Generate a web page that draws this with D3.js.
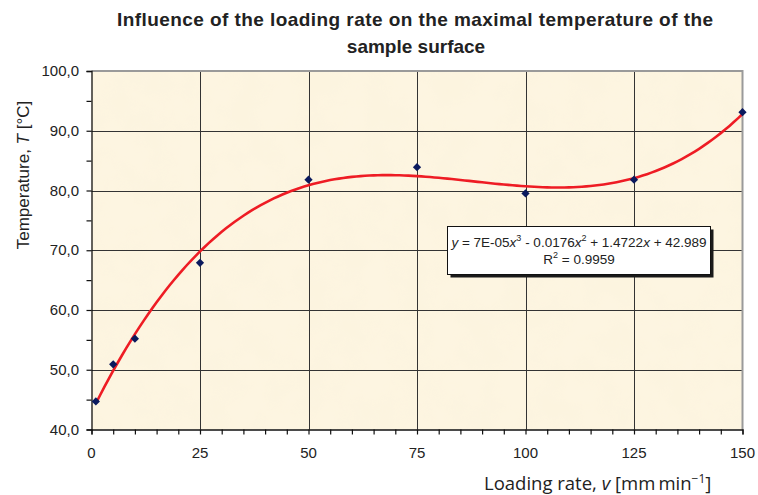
<!DOCTYPE html>
<html>
<head>
<meta charset="utf-8">
<script src="https://cdn.jsdelivr.net/npm/d3@7"></script>
<style>
  body { margin: 0; background: #fff; }
  svg { display: block; }
  text { font-family: "Liberation Sans", Arial, sans-serif; fill: #222; }
</style>
</head>
<body>
<script>
(function(){

    //measured values
    var rates = [1, 5, 10, 25, 50, 75, 100, 125, 150];
    var temps = [44.7, 50.9, 55.2, 67.9, 81.8, 83.9, 79.5, 81.8, 93.1];

    //axis ticks
    var xTicks = [0, 25, 50, 75, 100, 125, 150];
    var yTicks = [40, 50, 60, 70, 80, 90, 100];

    var width = 758,
        height = 495;

    //plot frame
    var left = 91.5, right = 742.5, top = 71, bottom = 429.5;

    var svg = d3.select("body")
        .append("svg")
        .attr("width", width)
        .attr("height", height);

    var x = d3.scaleLinear().domain([0, 150]).range([left, right]);
    var y = d3.scaleLinear().domain([40, 100]).range([bottom, top]);

    //paper texture for plot background
    var defs = svg.append("defs");
    var filter = defs.append("filter")
        .attr("id", "paper")
        .attr("x", 0).attr("y", 0).attr("width", 1).attr("height", 1);
    filter.append("feTurbulence")
        .attr("type", "fractalNoise")
        .attr("baseFrequency", 0.03)
        .attr("numOctaves", 3)
        .attr("seed", 4)
        .attr("result", "noise");
    filter.append("feColorMatrix")
        .attr("in", "noise")
        .attr("type", "matrix")
        .attr("values", "0 0 0 0 0.94  0 0 0 0 0.87  0 0 0 0 0.68  0 0 0 0.4 -0.12")
        .attr("result", "tint");
    filter.append("feComposite")
        .attr("in", "tint")
        .attr("in2", "SourceGraphic")
        .attr("operator", "in");

    svg.append("rect")
        .attr("x", left).attr("y", top)
        .attr("width", right - left).attr("height", bottom - top)
        .attr("fill", "#fdf5e1");
    svg.append("rect")
        .attr("x", left).attr("y", top)
        .attr("width", right - left).attr("height", bottom - top)
        .attr("fill", "#fff")
        .attr("filter", "url(#paper)");

    //grid lines
    svg.append("g")
        .selectAll("line")
        .data(yTicks.slice(1, -1))
        .enter()
        .append("line")
        .attr("x1", left).attr("x2", right)
        .attr("y1", function(d){ return Math.round(y(d)) + 0.5; })
        .attr("y2", function(d){ return Math.round(y(d)) + 0.5; })
        .attr("stroke", "#333")
        .attr("stroke-width", 1);
    svg.append("g")
        .selectAll("line")
        .data(xTicks.slice(1, -1))
        .enter()
        .append("line")
        .attr("y1", top).attr("y2", bottom)
        .attr("x1", function(d){ return Math.round(x(d)) + 0.5; })
        .attr("x2", function(d){ return Math.round(x(d)) + 0.5; })
        .attr("stroke", "#333")
        .attr("stroke-width", 1);

    //gray frame top and right
    svg.append("path")
        .attr("d", "M" + left + "," + top + "H" + right + "V" + bottom)
        .attr("fill", "none")
        .attr("stroke", "#9a9a9a")
        .attr("stroke-width", 2);

    //axes
    var xAxis = svg.append("g")
        .attr("transform", "translate(0," + bottom + ")")
        .call(d3.axisBottom(x).tickValues(d3.range(0, 151, 5)).tickSize(5).tickFormat(""));
    var yAxis = svg.append("g")
        .attr("transform", "translate(" + left + ",0)")
        .call(d3.axisLeft(y).tickValues(d3.range(40, 101, 5)).tickSize(5).tickFormat(""));
    [xAxis, yAxis].forEach(function(g){
        g.select(".domain").attr("stroke", "#111").attr("stroke-width", 1.3);
        g.selectAll(".tick line").attr("stroke", "#111").attr("stroke-width", 1.2);
    });

    //tick labels
    svg.append("g")
        .selectAll("text")
        .data(xTicks)
        .enter()
        .append("text")
        .attr("x", function(d){ return x(d); })
        .attr("y", 458)
        .attr("text-anchor", "middle")
        .style("font-size", "15px")
        .text(function(d){ return d; });
    svg.append("g")
        .selectAll("text")
        .data(yTicks)
        .enter()
        .append("text")
        .attr("x", 79)
        .attr("y", function(d){ return y(d) + 5; })
        .attr("text-anchor", "end")
        .style("font-size", "15px")
        .text(function(d){ return d.toFixed(1).replace(".", ","); });

    //title
    var title = svg.append("text")
        .attr("text-anchor", "middle")
        .style("font-size", "19px")
        .style("font-weight", "bold");
    title.append("tspan").attr("x", 415).attr("y", 26)
        .attr("textLength", 596)
        .text("Influence of the loading rate on the maximal temperature of the");
    title.append("tspan").attr("x", 416).attr("y", 53)
        .text("sample surface");

    //axis titles
    var yLab = svg.append("text")
        .attr("transform", "translate(29,175) rotate(-90)")
        .attr("text-anchor", "middle")
        .style("font-size", "17px");
    yLab.append("tspan").text("Temperature, ");
    yLab.append("tspan").style("font-style", "italic").text("T");
    yLab.append("tspan").text(" [°C]");

    var xLab = svg.append("text")
        .attr("x", 484)
        .attr("y", 490)
        .style("font-size", "18.5px")
        .style("font-family", "'Open Sans', sans-serif");
    xLab.append("tspan").text("Loading rate, ");
    xLab.append("tspan").style("font-style", "italic").text("v");
    xLab.append("tspan").text(" [mm\u2009min");
    xLab.append("tspan").attr("dy", -7).style("font-size", "12px").text("\u22121");
    xLab.append("tspan").attr("dy", 7).text("]");

    //least squares cubic trend line (Excel style)
    function polyFit(xs, ys, deg){
        var n = deg + 1, A = [], b = [];
        for (var i = 0; i < n; i++){
            A.push([]);
            for (var j = 0; j < n; j++){
                A[i].push(d3.sum(xs, function(v){ return Math.pow(v, i + j); }));
            }
            b.push(d3.sum(xs, function(v, k){ return ys[k] * Math.pow(v, i); }));
        }
        //gaussian elimination
        for (var c = 0; c < n; c++){
            var p = c;
            for (var r = c + 1; r < n; r++) if (Math.abs(A[r][c]) > Math.abs(A[p][c])) p = r;
            var tmp = A[c]; A[c] = A[p]; A[p] = tmp;
            var tb = b[c]; b[c] = b[p]; b[p] = tb;
            for (var r2 = c + 1; r2 < n; r2++){
                var f = A[r2][c] / A[c][c];
                for (var k = c; k < n; k++) A[r2][k] -= f * A[c][k];
                b[r2] -= f * b[c];
            }
        }
        var coef = new Array(n);
        for (var i2 = n - 1; i2 >= 0; i2--){
            var s = b[i2];
            for (var j2 = i2 + 1; j2 < n; j2++) s -= A[i2][j2] * coef[j2];
            coef[i2] = s / A[i2][i2];
        }
        return coef;
    }
    var coef = polyFit(rates, temps, 3);
    var trend = d3.range(rates[0], rates[rates.length - 1] + 0.01, 1).map(function(v){
        return [v, coef[0] + coef[1] * v + coef[2] * v * v + coef[3] * v * v * v];
    });
    svg.append("path")
        .datum(trend)
        .attr("d", d3.line()
            .x(function(d){ return x(d[0]); })
            .y(function(d){ return y(d[1]); }))
        .attr("fill", "none")
        .attr("stroke", "#ee1c24")
        .attr("stroke-width", 2.6);

    //data points (square turned 45 degrees)
    svg.append("g")
        .selectAll("path")
        .data(rates)
        .enter()
        .append("path")
        .attr("d", d3.symbol().type(d3.symbolSquare).size(34))
        .attr("transform", function(d, i){
            return "translate(" + x(d) + "," + y(temps[i]) + ") rotate(45)";
        })
        .attr("fill", "#0b1a5e");

    //equation box
    var box = svg.append("g");
    box.append("rect")
        .attr("x", 450.5).attr("y", 229.5)
        .attr("width", 263).attr("height", 48)
        .attr("fill", "#1a1a1a");
    box.append("rect")
        .attr("x", 447.5).attr("y", 226.5)
        .attr("width", 263).attr("height", 48)
        .attr("fill", "#fff")
        .attr("stroke", "#111")
        .attr("stroke-width", 1);
    var eq = box.append("text")
        .attr("x", 579)
        .attr("y", 247)
        .attr("text-anchor", "middle")
        .style("font-size", "13.5px");
    eq.append("tspan").style("font-style", "italic").text("y");
    eq.append("tspan").text(" = 7E-05");
    eq.append("tspan").style("font-style", "italic").text("x");
    eq.append("tspan").attr("dy", -6).style("font-size", "9px").text("3");
    eq.append("tspan").attr("dy", 6).text(" - 0.0176");
    eq.append("tspan").style("font-style", "italic").text("x");
    eq.append("tspan").attr("dy", -6).style("font-size", "9px").text("2");
    eq.append("tspan").attr("dy", 6).text(" + 1.4722");
    eq.append("tspan").style("font-style", "italic").text("x");
    eq.append("tspan").text(" + 42.989");
    var r2 = box.append("text")
        .attr("x", 579)
        .attr("y", 264)
        .attr("text-anchor", "middle")
        .style("font-size", "13.5px");
    r2.append("tspan").text("R");
    r2.append("tspan").attr("dy", -6).style("font-size", "9px").text("2");
    r2.append("tspan").attr("dy", 6).text(" = 0.9959");

})();
</script>
</body>
</html>
